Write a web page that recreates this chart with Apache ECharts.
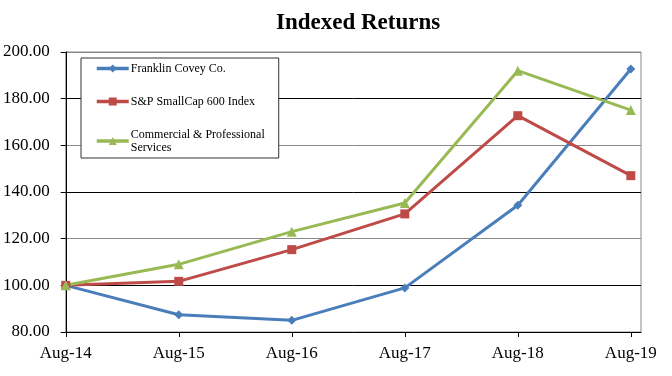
<!DOCTYPE html>
<html>
<head>
<meta charset="utf-8">
<script src="https://cdn.jsdelivr.net/npm/echarts@6/dist/echarts.min.js"></script>
<style>
  html, body { margin: 0; padding: 0; background: #fff; }
  #chart { width: 672px; height: 376px; }
</style>
</head>
<body>
<div id="chart"></div>
<script>
// 年份标签
var categories = ['Aug-14', 'Aug-15', 'Aug-16', 'Aug-17', 'Aug-18', 'Aug-19'];
var franklin = [100, 87.4, 85.0, 98.9, 134.3, 192.7];
var smallCap = [100, 101.7, 115.3, 130.6, 172.7, 147.0];
var commercial = [100, 109.0, 123.0, 135.3, 192.0, 175.1];
var yTicks = [80, 100, 120, 140, 160, 180, 200];

var serif = "'Liberation Serif', 'Times New Roman', serif";

function toPoints(arr) {
    return arr.map(function (v, i) { return [i, v]; });
}

var chart = echarts.init(document.getElementById('chart'));

var option = {
    animation: false,
    backgroundColor: '#fff',
    title: {
        text: 'Indexed Returns',
        left: 276,
        top: 12,
        padding: 0,
        textStyle: { fontFamily: serif, fontSize: 23, fontWeight: 'bold', color: '#000' }
    },
    legend: {
        orient: 'vertical',
        left: 81,
        top: 58,
        padding: [4, 14, 4, 14],
        itemGap: 20,
        itemWidth: 32,
        itemHeight: 10,
        backgroundColor: '#fff',
        borderColor: '#333',
        borderWidth: 1,
        borderRadius: 0,
        lineStyle: { width: 3.5 },
        textStyle: { fontFamily: serif, fontSize: 12, color: '#000', lineHeight: 13, padding: [0, 0, 0, -3] },
        data: ['Franklin Covey Co.', 'S&P SmallCap 600 Index', 'Commercial & Professional\nServices']
    },
    grid: {
        left: 64,
        right: 31,
        top: 52,
        bottom: 44,
        show: true,
        borderColor: '#888',
        borderWidth: 1
    },
    xAxis: {
        type: 'value',
        min: 0,
        max: 5.09,
        interval: 1,
        axisLine: { lineStyle: { color: '#000', width: 1 } },
        axisTick: { show: true, length: 5, inside: false, customValues: [0, 1, 2, 3, 4, 5], lineStyle: { color: '#000' } },
        axisLabel: {
            customValues: [0, 1, 2, 3, 4, 5],
            formatter: function (v) { return categories[Math.round(v)] || ''; },
            fontFamily: serif, fontSize: 17, color: '#000', margin: 13
        },
        splitLine: { show: false }
    },
    yAxis: {
        type: 'value',
        min: yTicks[0],
        max: yTicks[yTicks.length - 1],
        interval: 20,
        axisLine: { show: true, lineStyle: { color: '#000', width: 1 } },
        axisTick: { show: true, length: 5, lineStyle: { color: '#000' } },
        axisLabel: {
            formatter: function (v) { return v.toFixed(2); },
            fontFamily: serif, fontSize: 17, color: '#000', margin: 16
        },
        splitLine: { show: true, lineStyle: { color: ['#888', '#000'], width: 1 } }
    },
    series: [
        {
            name: 'Franklin Covey Co.',
            type: 'line',
            data: toPoints(franklin),
            symbol: 'diamond',
            symbolSize: 9,
            lineStyle: { color: '#4a7ebb', width: 3 },
            itemStyle: { color: '#4a7ebb' }
        },
        {
            name: 'S&P SmallCap 600 Index',
            type: 'line',
            data: toPoints(smallCap),
            symbol: 'rect',
            symbolSize: 9,
            lineStyle: { color: '#be4b48', width: 3 },
            itemStyle: { color: '#be4b48' }
        },
        {
            name: 'Commercial & Professional\nServices',
            type: 'line',
            data: toPoints(commercial),
            symbol: 'triangle',
            symbolSize: 10,
            lineStyle: { color: '#98b954', width: 3 },
            itemStyle: { color: '#98b954' }
        }
    ]
};

chart.setOption(option);
</script>
</body>
</html>
